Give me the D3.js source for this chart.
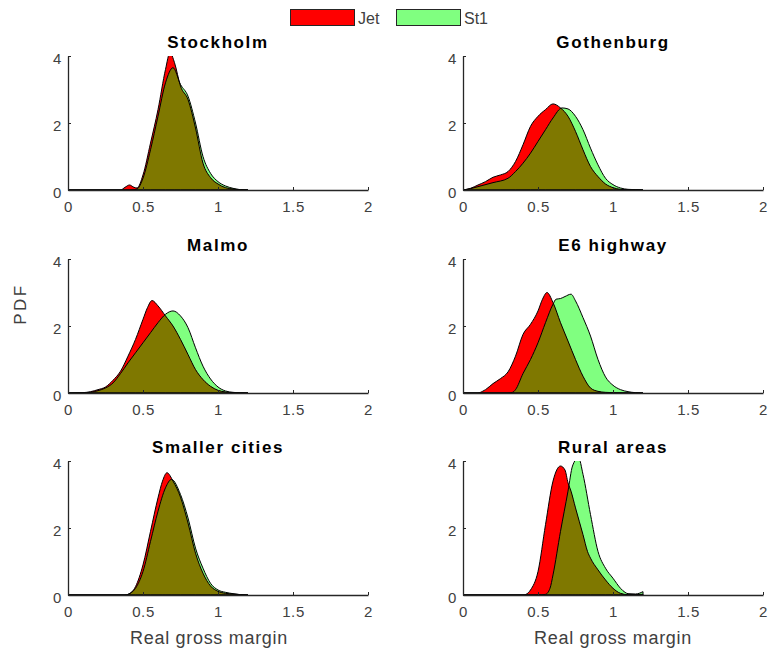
<!DOCTYPE html>
<html><head><meta charset="utf-8">
<script src="https://cdn.jsdelivr.net/npm/d3@7"></script>
<style>
body{margin:0;background:#fff}
text{font-family:"Liberation Sans",Arial,Helvetica,sans-serif}
</style>
</head><body>
<svg id="chart" width="769" height="652"></svg>
<script>
// ---- data (x = real gross margin, y = PDF) ----
const seriesNames = ["Jet", "St1"];
const panelTitles = ["Stockholm", "Gothenburg", "Malmo", "E6 highway", "Smaller cities", "Rural areas"];
const xTicks = [0, 0.5, 1, 1.5, 2];
const xTickLabels = ["0", "0.5", "1", "1.5", "2"];
const yTicks = [0, 2, 4];
const yTickLabels = ["0", "2", "4"];

const stockholmJet = [[0,0],[0.35,0],[0.38,0.08],[0.41,0.15],[0.44,0.08],[0.46,0.06],[0.5,0.45],[0.55,1.4],[0.6,2.4],[0.65,3.6],[0.68,4.1],[0.71,3.8],[0.75,3.1],[0.8,2.7],[0.85,1.85],[0.9,0.8],[0.95,0.37],[1.0,0.18],[1.05,0.07],[1.1,0.03],[1.15,0.01],[1.2,0]];
const stockholmSt1 = [[0,0],[0.42,0],[0.46,0.03],[0.5,0.35],[0.55,1.2],[0.6,2.2],[0.65,3.2],[0.7,3.65],[0.75,3.15],[0.8,2.8],[0.85,2.0],[0.9,1.0],[0.95,0.5],[1.0,0.25],[1.05,0.12],[1.1,0.05],[1.15,0.01],[1.2,0]];

const gothenburgJet = [[0,0],[0.05,0.05],[0.1,0.15],[0.15,0.25],[0.2,0.38],[0.25,0.45],[0.3,0.55],[0.35,0.85],[0.4,1.35],[0.45,1.9],[0.5,2.2],[0.55,2.4],[0.6,2.57],[0.65,2.45],[0.7,2.2],[0.75,1.75],[0.8,1.2],[0.85,0.7],[0.9,0.4],[0.95,0.18],[1.0,0.07],[1.05,0.02],[1.1,0.01],[1.2,0]];
const gothenburgSt1 = [[0,0],[0.05,0.04],[0.1,0.1],[0.2,0.22],[0.3,0.35],[0.35,0.55],[0.4,0.8],[0.45,1.1],[0.5,1.45],[0.55,1.8],[0.6,2.15],[0.66,2.45],[0.7,2.42],[0.75,2.2],[0.8,1.8],[0.85,1.25],[0.9,0.75],[0.95,0.35],[1.0,0.16],[1.05,0.06],[1.1,0.02],[1.15,0.01],[1.2,0]];

const malmoJet = [[0,0],[0.1,0.01],[0.15,0.04],[0.2,0.1],[0.25,0.18],[0.3,0.38],[0.35,0.65],[0.4,1.1],[0.45,1.6],[0.5,2.2],[0.53,2.55],[0.56,2.76],[0.6,2.6],[0.65,2.3],[0.7,2.0],[0.75,1.6],[0.8,1.15],[0.85,0.7],[0.9,0.4],[0.95,0.2],[1.0,0.08],[1.05,0.03],[1.1,0.01],[1.2,0]];
const malmoSt1 = [[0,0],[0.1,0.005],[0.15,0.02],[0.2,0.07],[0.25,0.15],[0.3,0.3],[0.35,0.58],[0.4,0.9],[0.45,1.2],[0.5,1.5],[0.55,1.8],[0.6,2.1],[0.65,2.35],[0.7,2.45],[0.75,2.3],[0.8,1.95],[0.85,1.35],[0.9,0.8],[0.95,0.42],[1.0,0.18],[1.05,0.06],[1.1,0.02],[1.15,0.005],[1.2,0]];

const e6Jet = [[0,0],[0.1,0],[0.13,0.05],[0.15,0.1],[0.2,0.28],[0.25,0.43],[0.3,0.63],[0.35,1.1],[0.4,1.75],[0.45,2.05],[0.5,2.45],[0.53,2.8],[0.56,3.0],[0.6,2.7],[0.65,2.1],[0.7,1.55],[0.75,1.0],[0.8,0.5],[0.85,0.15],[0.9,0.05],[0.95,0.02],[1.0,0.01],[1.2,0]];
const e6St1 = [[0,0],[0.3,0],[0.33,0.02],[0.35,0.1],[0.4,0.58],[0.45,1.0],[0.5,1.5],[0.55,2.1],[0.6,2.65],[0.62,2.8],[0.65,2.82],[0.68,2.88],[0.72,2.95],[0.75,2.75],[0.8,2.25],[0.85,1.7],[0.9,1.0],[0.95,0.48],[1.0,0.23],[1.05,0.1],[1.1,0.04],[1.15,0.01],[1.2,0]];

const smallerJet = [[0,0],[0.38,0],[0.4,0.02],[0.45,0.25],[0.5,0.9],[0.55,1.9],[0.6,2.9],[0.63,3.4],[0.66,3.65],[0.7,3.4],[0.75,2.92],[0.8,2.15],[0.85,1.25],[0.9,0.65],[0.95,0.27],[1.0,0.11],[1.05,0.05],[1.1,0.03],[1.15,0.01],[1.2,0]];
const smallerSt1 = [[0,0],[0.38,0],[0.4,0.02],[0.45,0.2],[0.5,0.7],[0.55,1.6],[0.6,2.5],[0.65,3.2],[0.69,3.45],[0.75,3.0],[0.8,2.3],[0.85,1.4],[0.9,0.8],[0.95,0.35],[1.0,0.15],[1.05,0.08],[1.1,0.04],[1.15,0.01],[1.2,0]];

const ruralJet = [[0,0],[0.4,0],[0.42,0.02],[0.45,0.15],[0.5,0.7],[0.55,2.1],[0.6,3.4],[0.65,3.85],[0.68,3.73],[0.7,3.35],[0.72,3.1],[0.75,2.6],[0.8,1.8],[0.83,1.3],[0.85,1.1],[0.9,0.75],[0.95,0.45],[1.0,0.2],[1.05,0.05],[1.1,0.01],[1.2,0.02]];
const ruralSt1 = [[0,0],[0.5,0],[0.55,0.02],[0.58,0.2],[0.6,0.6],[0.65,1.9],[0.7,3.1],[0.73,3.85],[0.77,4.1],[0.8,3.6],[0.85,2.4],[0.9,1.3],[0.95,0.8],[1.0,0.5],[1.05,0.2],[1.08,0.08],[1.1,0.04],[1.15,0.03],[1.2,0.1]];

const jetSeries = [stockholmJet, gothenburgJet, malmoJet, e6Jet, smallerJet, ruralJet];
const st1Series = [stockholmSt1, gothenburgSt1, malmoSt1, e6St1, smallerSt1, ruralSt1];

// ---- layout ----
const colLeft = [68, 463];
const rowTop = [56, 259, 461];
const plotW = 300, plotH = 134;
const colors = {jet: "#ff0000", st1: "#80ff80", both: "#7f7800", axis: "#262626", tick: "#404040"};

const svg = d3.select("#chart");
const defs = svg.append("defs");

panelTitles.forEach((title, i) => {
  const col = i % 2, row = Math.floor(i / 2);
  const x = d3.scaleLinear().domain([0, 2]).range([0, plotW]);
  const y = d3.scaleLinear().domain([0, 4]).range([plotH, 0]);
  const g = svg.append("g").attr("transform", `translate(${colLeft[col]},${rowTop[row]})`);

  const area = d3.area().x(d => x(d[0])).y0(y(0)).y1(d => y(d[1])).curve(d3.curveMonotoneX);

  defs.append("clipPath").attr("id", "plot" + i)
    .append("rect").attr("x", -2).attr("y", 0).attr("width", plotW + 4).attr("height", plotH + 2);
  defs.append("clipPath").attr("id", "jet" + i)
    .append("path").attr("d", area(jetSeries[i]));

  const pg = g.append("g").attr("clip-path", `url(#plot${i})`);
  pg.append("path").attr("d", area(st1Series[i])).attr("fill", colors.st1);
  pg.append("path").attr("d", area(jetSeries[i])).attr("fill", colors.jet);
  pg.append("path").attr("d", area(st1Series[i])).attr("fill", colors.both).attr("clip-path", `url(#jet${i})`);
  pg.append("path").attr("d", area(jetSeries[i])).attr("fill", "none").attr("stroke", "#000").attr("stroke-width", 1);
  pg.append("path").attr("d", area(st1Series[i])).attr("fill", "none").attr("stroke", "#000").attr("stroke-width", 1);

  // axes
  const xAxis = d3.axisBottom(x).tickValues(xTicks).tickSizeInner(-3).tickSizeOuter(0).tickPadding(11)
    .tickFormat((d, k) => xTickLabels[k]);
  const gx = g.append("g").attr("transform", `translate(0,${plotH})`).call(xAxis);
  const yAxis = d3.axisLeft(y).tickValues(yTicks).tickSizeInner(-3).tickSizeOuter(0).tickPadding(6)
    .tickFormat((d, k) => yTickLabels[k]);
  const gy = g.append("g").call(yAxis);
  [gx, gy].forEach(a => {
    a.attr("font-size", "15px").attr("font-family", null);
    a.select(".domain").attr("stroke", colors.axis).attr("stroke-width", 1.3);
    a.selectAll(".tick line").attr("stroke", colors.axis);
    a.selectAll(".tick text").attr("fill", colors.tick).attr("font-size", "15px").style("letter-spacing", "0.6px");
  });
  gy.selectAll(".tick text").attr("dy", "0.5em");

  g.append("text").attr("x", plotW / 2).attr("y", -8)
    .attr("text-anchor", "middle").style("font-size", "17px").style("font-weight", "bold")
    .style("letter-spacing", "1.6px").attr("fill", "#000").text(title);

  if (row === 2) {
    g.append("text").attr("x", col === 0 ? plotW / 2 - 9 : plotW / 2).attr("y", plotH + 49)
      .attr("text-anchor", "middle").style("font-size", "18px").style("letter-spacing", "0.7px")
      .attr("fill", colors.tick).text("Real gross margin");
  }
});

// y label
svg.append("text").attr("transform", "translate(26,304) rotate(-90)")
  .attr("text-anchor", "middle").style("font-size", "17px").style("letter-spacing", "2.5px")
  .attr("fill", colors.tick).text("PDF");

// legend
const legendX = [290, 396];
const legendFill = [colors.jet, colors.st1];
seriesNames.forEach((name, k) => {
  const lg = svg.append("g").attr("transform", `translate(${legendX[k]},9)`);
  lg.append("rect").attr("x", 0.5).attr("y", 0.5).attr("width", 64).attr("height", 16)
    .attr("fill", legendFill[k]).attr("stroke", colors.axis).attr("stroke-width", 1);
  lg.append("text").attr("x", 68).attr("y", 15).style("font-size", "16px")
    .attr("fill", colors.tick).text(name);
});
</script>
</body></html>
